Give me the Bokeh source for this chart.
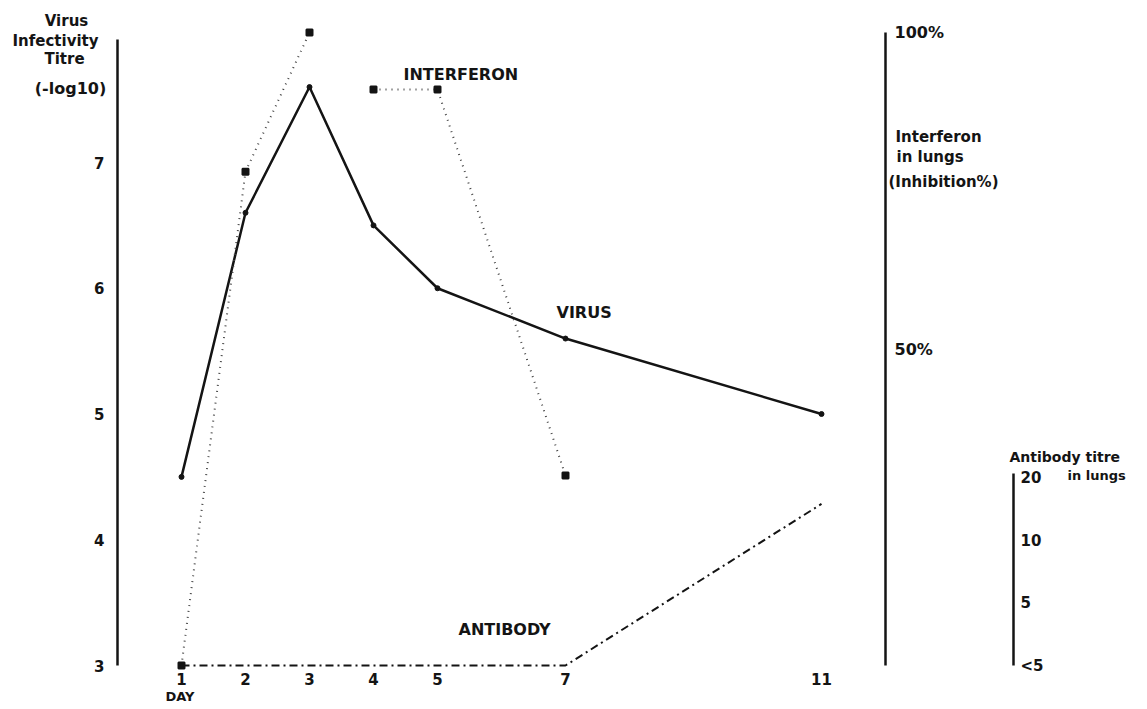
from bokeh.plotting import figure
from bokeh.models import (LinearAxis, LogAxis, Range1d, LogScale, FixedTicker, Label)
from bokeh.embed import file_html
from bokeh.resources import INLINE

# ---------------- data ----------------
days = [1, 2, 3, 4, 5, 7, 11]
virus_titre = [4.5, 6.6, 7.6, 6.5, 6.0, 5.6, 5.0]

interferon_days = [1, 2, 3, 4, 5, 7]
interferon_pct = [0, 78, 100, 91, 91, 30]

antibody_days = [1, 2, 3, 4, 5, 7, 11]
antibody_titre = [2.5, 2.5, 2.5, 2.5, 2.5, 2.5, 15]

x_ticks = [1, 2, 3, 4, 5, 7, 11]
virus_ticks = [3, 4, 5, 6, 7]
interferon_ticks = [50, 100]
interferon_tick_labels = ["50%", "100%"]
antibody_ticks = [2.5, 5, 10, 20]
antibody_tick_labels = ["<5", "5", "10", "20"]

# ---------------- layout helpers (reference pixel -> data) ----------------
PX_DAY = 64.0
X0 = 117.0
PX_UNIT = 125.75
Y3 = 665.0
OFF = 0


def X(px):
    return (px - X0) / PX_DAY


def Y(py):
    return 3 + (Y3 - py) / PX_UNIT


INK = "#141414"
FONT = "DejaVu Sans"

W, H = 1131, 705
p = figure(width=W, height=H, output_backend="svg", toolbar_location=None,
           x_range=Range1d(X(OFF), X(OFF + W)), y_range=Range1d(Y(OFF + H), Y(OFF)),
           x_axis_location=None, y_axis_location=None, min_border=0,
           background_fill_color="white", border_fill_color="white")
p.outline_line_color = None
p.grid.visible = False

inf_px = 6.33  # px per %
ab_px = 62.5   # px per doubling
p.extra_y_ranges = {
    "inf": Range1d((Y3 - (OFF + H)) / inf_px, (Y3 - OFF) / inf_px),
    "ab": Range1d(2.5 * 2 ** ((Y3 - (OFF + H)) / ab_px), 2.5 * 2 ** ((Y3 - OFF) / ab_px)),
}
p.extra_y_scales = {"ab": LogScale()}


def style_axis(ax, size="15px", standoff=10):
    ax.major_tick_line_color = None
    ax.minor_tick_line_color = None
    ax.major_tick_out = 0
    ax.major_tick_in = 0
    ax.axis_line_color = INK
    ax.axis_line_width = 2.5
    ax.major_label_text_font = FONT
    ax.major_label_text_font_style = "bold"
    ax.major_label_text_font_size = size
    ax.major_label_text_color = INK
    ax.major_label_standoff = standoff


# left virus axis
left = LinearAxis(ticker=FixedTicker(ticks=virus_ticks), bounds=(3, 7.98), fixed_location=0)
style_axis(left, "15px", 13)
p.add_layout(left, "left")

# bottom day axis
bottom = LinearAxis(ticker=FixedTicker(ticks=x_ticks), fixed_location=3)
style_axis(bottom, "15px", 7)
bottom.axis_line_color = None
p.add_layout(bottom, "below")

# interferon axis
inf_axis = LinearAxis(y_range_name="inf", ticker=FixedTicker(ticks=interferon_ticks),
                      major_label_overrides=dict(zip(interferon_ticks, interferon_tick_labels)),
                      bounds=(0, 100), fixed_location=12)
style_axis(inf_axis, "16px", 9)
p.add_layout(inf_axis, "right")

# antibody axis
ab_axis = LogAxis(y_range_name="ab", ticker=FixedTicker(ticks=antibody_ticks),
                  major_label_overrides=dict(zip(antibody_ticks, antibody_tick_labels)),
                  bounds=(2.5, 21), fixed_location=14)
style_axis(ab_axis, "15px", 7)
p.add_layout(ab_axis, "right")

# ---------------- series ----------------
p.line(days, virus_titre, line_color=INK, line_width=2.5)
p.scatter(days, virus_titre, size=5, color=INK)

p.line(interferon_days[:3], interferon_pct[:3], y_range_name="inf",
       line_color="#444444", line_width=2, line_dash="1 5")
p.line(interferon_days[3:], interferon_pct[3:], y_range_name="inf",
       line_color="#444444", line_width=2, line_dash="1 5")
p.scatter(interferon_days, interferon_pct, y_range_name="inf", marker="square_x",
          size=6, line_width=2, color=INK)

p.line(antibody_days, antibody_titre, y_range_name="ab", line_color=INK,
       line_width=2, line_dash="8 4 2 4")

# ---------------- text ----------------
def lab(px, py, text, size="15px", align="left", baseline="middle"):
    p.add_layout(Label(x=X(px), y=Y(py), text=text, text_font=FONT,
                       text_font_style="bold", text_font_size=size,
                       text_color=INK, text_align=align, text_baseline=baseline))


lab(66, 20, "Virus", "15px", "center")
lab(55, 40, "Infectivity", "15px", "center")
lab(64, 58, "Titre", "15px", "center")
lab(70, 88, "(-log10)", "16px", "center")

lab(403, 74, "INTERFERON", "16px")
lab(556, 312, "VIRUS", "16px")
lab(458, 629, "ANTIBODY", "16px")

lab(895, 136, "Interferon", "15px")
lab(896, 156, "in lungs", "15px")
lab(888, 181, "(Inhibition%)", "15px")

lab(1009, 456, "Antibody titre", "14px")
lab(1067, 475, "in lungs", "13px")

lab(165, 696, "DAY", "13px")

open("out.html", "w").write(file_html(p, INLINE))
